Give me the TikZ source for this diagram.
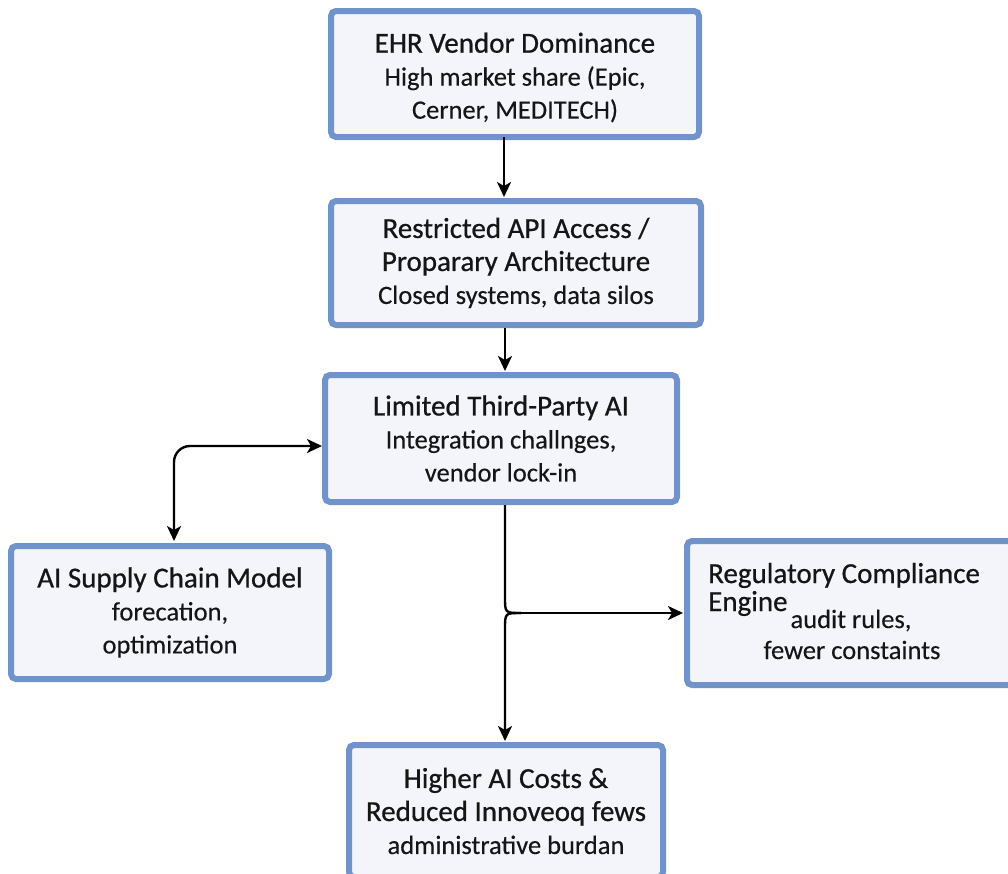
\documentclass[tikz,border=0pt]{standalone}
\usepackage{fontspec}
\setmainfont{Carlito}
\newfontfamily\titlefam{Carlito}[FakeBold=0.7]
\newfontfamily\bodyfam{Carlito}[FakeBold=0.3]
\usetikzlibrary{arrows.meta}
\definecolor{boxborder}{HTML}{7193CC}
\definecolor{boxfill}{HTML}{F3F5FA}
\definecolor{txt}{HTML}{151515}
\newcommand\boxtitle{\titlefam\fontsize{29}{33}\selectfont}
\newcommand\boxbody{\bodyfam\fontsize{26.5}{33}\selectfont}
\tikzset{
  flowbox/.style={draw=boxborder, line width=6pt, fill=boxfill, rounded corners=5pt,
    inner sep=0pt, align=center, text=txt, font=\boxbody},
  conn/.style={line width=2.4pt, -{Stealth[length=15pt,width=14pt,inset=4pt]}, black},
  dconn/.style={line width=2.4pt, {Stealth[length=15pt,width=14pt,inset=4pt]}-{Stealth[length=15pt,width=14pt,inset=4pt]}, black, rounded corners=16pt},
  plain/.style={inner sep=0pt, text=txt},
}
\begin{document}
\begin{tikzpicture}[x=1pt,y=-1pt]
\useasboundingbox (0,0) rectangle (1008,873);
\fill[white] (0,0) rectangle (1008,873);

\node[flowbox, minimum width=368pt, minimum height=126pt] (b1) at (515,74)
  {\rule{0pt}{6pt}\\[-12pt]{\boxtitle EHR Vendor Dominance}\\High market share (Epic,\\Cerner, MEDITECH)};
\node[flowbox, minimum width=370pt, minimum height=124pt] (b2) at (516,263)
  {{\boxtitle Restricted API Access /}\\{\boxtitle Proparary Architecture}\\Closed systems, data silos};
\node[flowbox, minimum width=352pt, minimum height=127pt] (b3) at (501,438.5)
  {{\boxtitle Limited Third-Party AI}\\Integration challnges,\\vendor lock-in};
\node[flowbox, minimum width=318pt, minimum height=133pt] (b4) at (170,612.5)
  {{\boxtitle AI Supply Chain Model}\\forecation,\\optimization};
\node[flowbox, minimum width=326pt, minimum height=144pt] (b5) at (850,613) {};
\node[plain, anchor=base west, font=\boxtitle] (t5a) at (708,583) {Regulatory Compliance};
\node[plain, anchor=base west, font=\boxtitle] (t5b) at (708,611) {Engine};
\node[plain, anchor=base, font=\boxbody] (t5c) at (851,628) {audit rules,};
\node[plain, anchor=base, font=\boxbody] (t5d) at (852,659) {fewer constaints};
\node[flowbox, minimum width=314pt, minimum height=132pt] (b6) at (506,811)
  {{\boxtitle Higher AI Costs \&}\\{\boxtitle Reduced Innoveoq fews}\\administrative burdan};

\coordinate (j) at (521,613);
\draw[conn] (504,137) -- (504,197);
\draw[conn] (505,328) -- (505,371);
\draw[dconn] (174,541) -- (174,446) -- (322,446);
\draw[line width=2.4pt] (505,505) -- (505,597) .. controls (505,613) .. (j);
\draw[conn] (j) -- (683,613);
\draw[conn] (j) .. controls (505,613) .. (505,629) -- (505,741);
\end{tikzpicture}
\end{document}
